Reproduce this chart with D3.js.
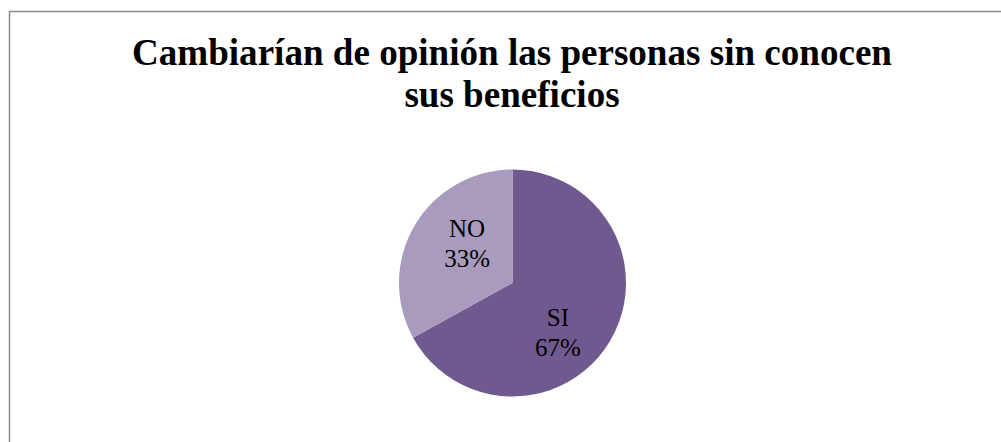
<!DOCTYPE html>
<meta charset="utf-8">
<style>
    body { margin: 0; background: #fff; }
</style>
<svg></svg>
<script src="https://d3js.org/d3.v7.min.js"></script>
<script>

    var categories = ["SI", "NO"];
    var values = [67, 33];
    var titleLines = ["Cambiarían de opinión las personas sin conocen", "sus beneficios"];

    var width = 1001,
        height = 442;
    var serif = "'Liberation Serif', 'Times New Roman', serif";

    var svg = d3.select("svg")
        .attr("width", width)
        .attr("height", height);

    // chart frame, runs off the right and bottom edges
    svg.append("rect")
        .attr("x", 9.5)
        .attr("y", 11.5)
        .attr("width", 1020)
        .attr("height", 460)
        .attr("fill", "#fff")
        .attr("stroke", "#898989")
        .attr("stroke-width", 1.5);

    var title = svg.selectAll(".title")
        .data(titleLines)
        .enter().append("text")
        .attr("class", "title")
        .attr("x", 512)
        .attr("y", function (d, i) { return 65 + i * 42; })
        .attr("text-anchor", "middle")
        .style("font-family", serif)
        .style("font-weight", "bold")
        .style("font-size", "35px")
        .text(function (d) { return d; });

    // fit first title line to the width seen in the picture
    var len = title.node().getComputedTextLength();
    title.style("font-size", (35 * 760 / len).toFixed(2) + "px");

    var radius = 113.5,
        g = svg.append("g").attr("transform", "translate(512.5,283)");

    var color = d3.scaleOrdinal(categories, ["#70598f", "#a99bbd"]);

    var data = categories.map(function (c, i) { return { name: c, value: values[i] }; });

    var pie = d3.pie()
        .sort(null)
        .value(function (d) { return d.value; });

    var path = d3.arc()
        .outerRadius(radius)
        .innerRadius(0);

    var label = d3.arc()
        .outerRadius(radius * 0.56)
        .innerRadius(radius * 0.56)
        .startAngle(function (d) { return d.startAngle + 0.24; })
        .endAngle(function (d) { return d.endAngle + 0.24; });

    var arc = g.selectAll(".arc")
        .data(pie(data))
        .enter().append("g")
        .attr("class", "arc");

    arc.append("path")
        .attr("d", path)
        .attr("fill", function (d) { return color(d.data.name); });

    var txt = arc.append("text")
        .attr("transform", function (d) { return "translate(" + label.centroid(d) + ")"; })
        .attr("text-anchor", "middle")
        .style("font-family", serif)
        .style("font-size", "25px")
        .attr("fill", "#000");
    txt.append("tspan")
        .attr("x", 0)
        .attr("dy", "-0.05em")
        .text(function (d) { return d.data.name; });
    txt.append("tspan")
        .attr("x", 0)
        .attr("dy", "1.2em")
        .text(function (d) { return d.data.value + "%"; });

</script>
